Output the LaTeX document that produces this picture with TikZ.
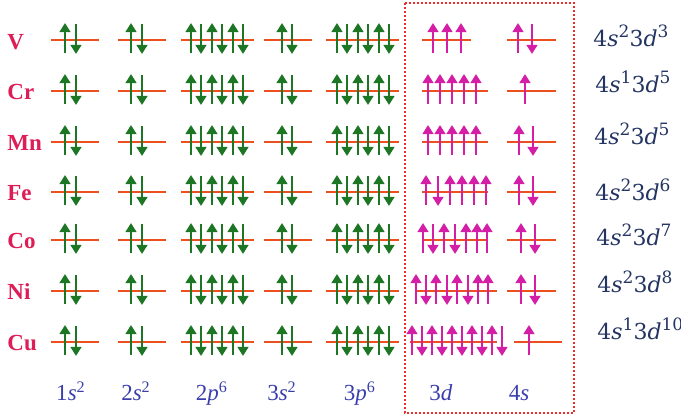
\documentclass[tikz,border=0pt]{standalone}
\usepackage{fontspec}
\setmainfont{Liberation Serif}
\newfontfamily\cfgfont{DejaVu Serif}
\usetikzlibrary{arrows.meta}

\definecolor{elemred}{RGB}{222,28,86}
\definecolor{levelred}{RGB}{235,80,30}
\definecolor{spingreen}{RGB}{28,118,36}
\definecolor{spinpink}{RGB}{212,30,165}
\definecolor{confblue}{RGB}{36,52,98}
\definecolor{shellblue}{RGB}{58,62,172}
\definecolor{boxred}{RGB}{238,44,44}

% one orbital level: x1, x2, arrow centre, y, spins, gap, colour style
\newcommand{\orbital}[7]{%
  \draw[level] (#1,#4) -- (#2,#4);
  \edef\spinlist{#5}%
  \foreach \s [count=\k] in \spinlist {\xdef\nspin{\k}}%
  \foreach \s [count=\k] in \spinlist {%
    \pgfmathsetmacro\ax{round(#3+(\k-(\nspin+1)/2)*#6)}%
    \if u\s
      \draw[spin,#7] (\ax,#4+13) -- (\ax,#4-17);
    \else
      \draw[spin,#7] (\ax,#4-16) -- (\ax,#4+14);
    \fi
  }%
}
\newcommand{\sups}[1]{\raisebox{0.42em}{\fontsize{8.5}{9}\selectfont #1}}
\newcommand{\ecfg}[2]{4\textit{s}\sups{#1}3\textit{d}\sups{#2}}

\begin{document}
\begin{tikzpicture}[x=0.5pt,y=-0.5pt,
    level/.style={draw=levelred, line width=1pt},
    spin/.style={line width=1.45pt, -{Triangle[length=4.6pt,width=5.4pt]}},
    inner/.style={draw=spingreen},
    outer/.style={draw=spinpink},
    elem/.style={anchor=base west, inner sep=0pt, text=elemred, font=\fontsize{11.5}{13}\selectfont\bfseries},
    conf/.style={anchor=base west, inner sep=0pt, text=confblue, font=\cfgfont\fontsize{11}{13}\selectfont},
    shell/.style={anchor=base, inner sep=0pt, text=shellblue, font=\fontsize{11.5}{13}\selectfont},
    frame/.style={draw=boxred, line width=1pt, dash pattern=on 1pt off 1pt},
  ]
  \useasboundingbox (0,0) rectangle (681,416);

  % elements
  \node[elem] (V)  at (7,50)  {V};
  \node[elem] (Cr) at (7,100) {Cr};
  \node[elem] (Mn) at (7,151) {Mn};
  \node[elem] (Fe) at (7,201) {Fe};
  \node[elem] (Co) at (7,249) {Co};
  \node[elem] (Ni) at (7,300) {Ni};
  \node[elem] (Cu) at (7,351) {Cu};

  % filled inner shells
  \foreach \y in {40,91,142,192,240,291,342}
    \foreach \xa/\xb/\xc/\spins in {51/99/70.5/{u,d},118/166/136.5/{u,d},181/254/217/{u,d,u,d,u,d},264/312/287/{u,d},326/399/363/{u,d,u,d,u,d}}
      {\orbital{\xa}{\xb}{\xc}{\y}{\spins}{10.5}{inner}}

  % 3d
  \foreach \y/\xa/\xb/\xc/\g/\spins in {40/422/471/447/14/{u,u,u},91/422/488/452/12/{u,u,u,u,u},142/422/488/452/12/{u,u,u,u,u},192/422/488/456/12/{u,d,u,u,u,u},240/422/488/455/10.8/{u,d,u,d,u,u,u},291/415/497/452/10.4/{u,d,u,d,u,d,u,u},342/410/497/457/10/{u,d,u,d,u,d,u,d,u,d}}
    {\orbital{\xa}{\xb}{\xc}{\y}{\spins}{\g}{outer}}

  % 4s
  \foreach \y/\xa/\xb/\xc/\spins in {40/507/556/525/{u,d},91/507/556/525/{u},142/507/556/526/{u,d},192/507/556/526/{u,d},240/507/556/528/{u,d},291/507/556/528/{u,d},342/514/562/529/{u}}
    {\orbital{\xa}{\xb}{\xc}{\y}{\spins}{14}{outer}}

  \draw[frame] (405,3) rectangle (574,413);

  % configurations
  \node[conf] (cV)  at (593,47)  {\ecfg{2}{3}};
  \node[conf] (cCr) at (595,93)  {\ecfg{1}{5}};
  \node[conf] (cMn) at (594,145) {\ecfg{2}{5}};
  \node[conf] (cFe) at (595,201) {\ecfg{2}{6}};
  \node[conf] (cCo) at (596,246) {\ecfg{2}{7}};
  \node[conf] (cNi) at (597,293) {\ecfg{2}{8}};
  \node[conf] (cCu) at (597,340) {\ecfg{1}{10}};

  % shell labels
  \node[shell] (l1s) at (71,401)  {1\textit{s}\textsuperscript{2}};
  \node[shell] (l2s) at (136,401) {2\textit{s}\textsuperscript{2}};
  \node[shell] (l2p) at (212,401) {2\textit{p}\textsuperscript{6}};
  \node[shell] (l3s) at (282,401) {3\textit{s}\textsuperscript{2}};
  \node[shell] (l3p) at (360,401) {3\textit{p}\textsuperscript{6}};
  \node[shell] (l3d) at (441,401) {3\textit{d}};
  \node[shell] (l4s) at (519,401) {4\textit{s}};
\end{tikzpicture}
\end{document}
